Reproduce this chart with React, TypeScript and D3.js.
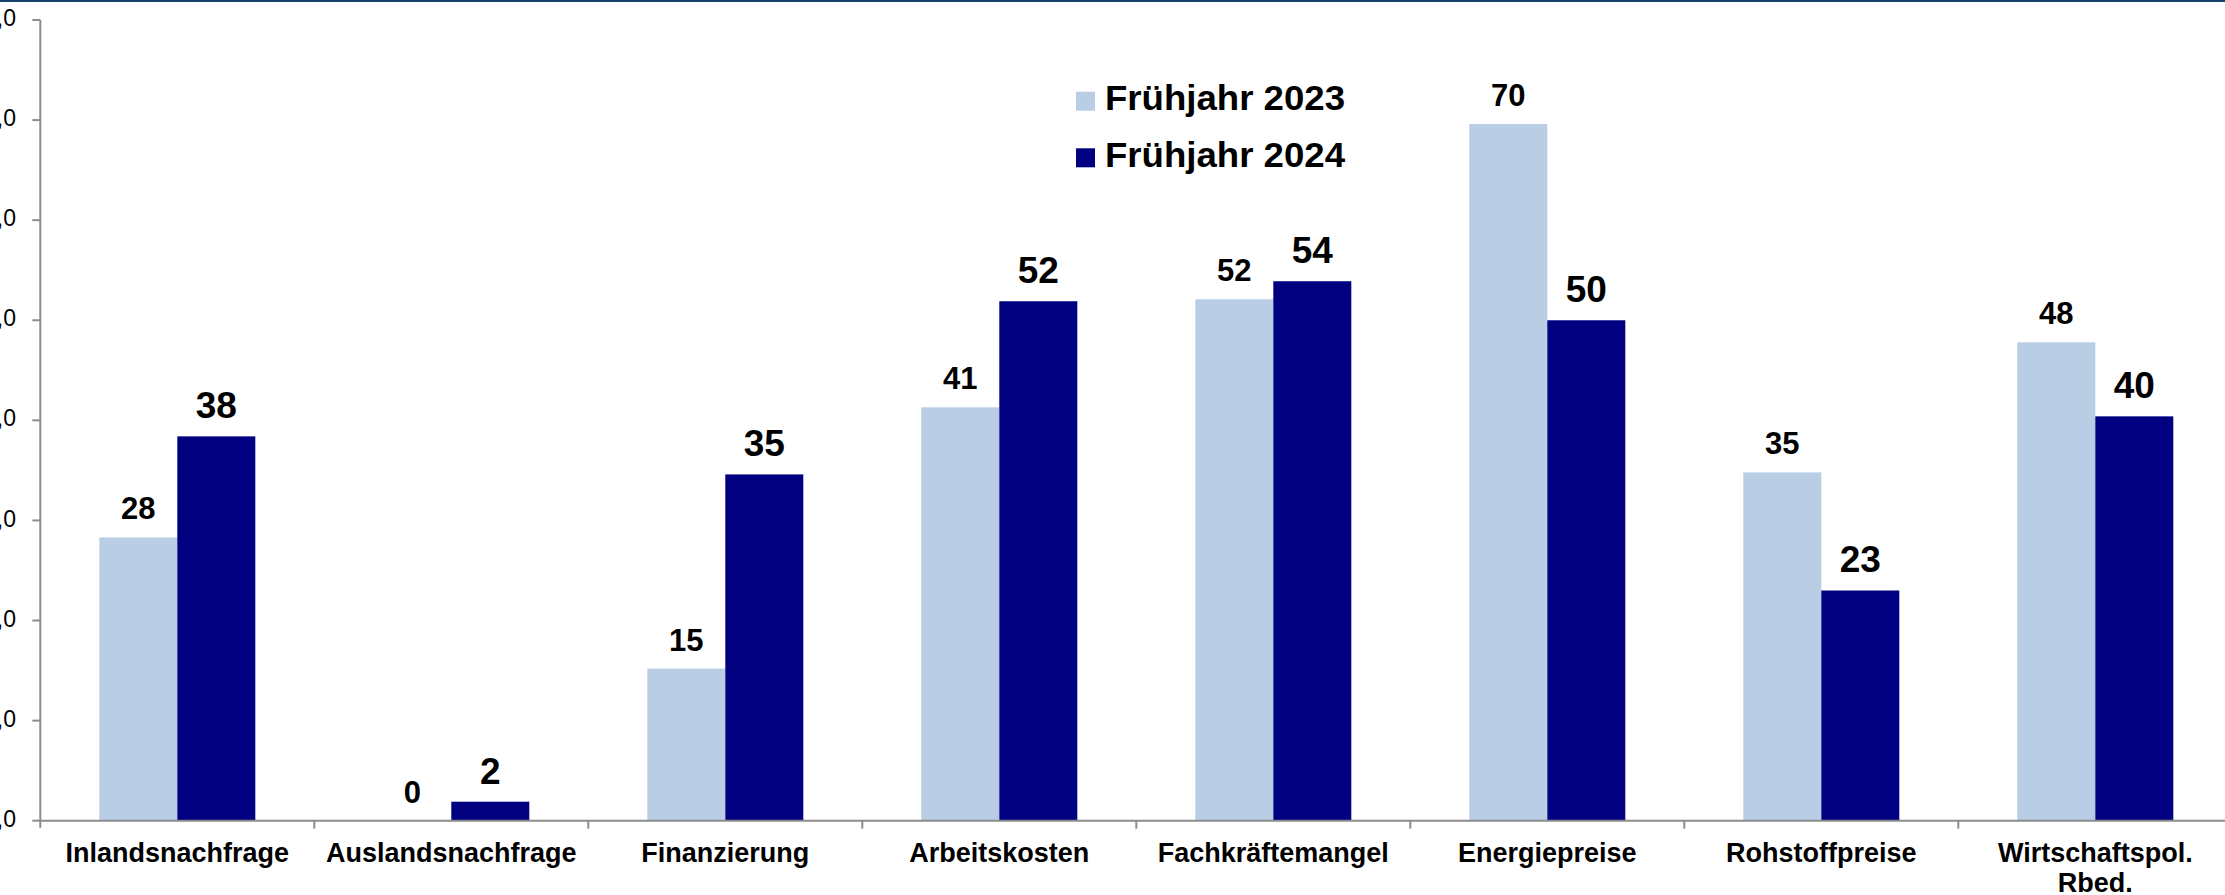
import React from "react";
import * as d3 from "d3";

const categories: string[][] = [
  ["Inlandsnachfrage"],
  ["Auslandsnachfrage"],
  ["Finanzierung"],
  ["Arbeitskosten"],
  ["Fachkräftemangel"],
  ["Energiepreise"],
  ["Rohstoffpreise"],
  ["Wirtschaftspol.", "Rbed."],
];
const seriesNames = ["Frühjahr 2023", "Frühjahr 2024"];
const values2023 = [28.3, 0, 15.2, 41.3, 52.1, 69.6, 34.8, 47.8];
const values2024 = [38.4, 1.9, 34.6, 51.9, 53.9, 50.0, 23.0, 40.4];
const yTicks = [0, 10, 20, 30, 40, 50, 60, 70, 80];
const yTickLabels = ["0,0", "10,0", "20,0", "30,0", "40,0", "50,0", "60,0", "70,0", "80,0"];

const W = 2225;
const H = 895;
const LIGHT = "#b9cde5";
const DARK = "#000080";
const AXIS = "#8c8c8c";
const FONT = "'Liberation Sans', Arial, Helvetica, sans-serif";

export default function App() {
  const x0 = 40.3;
  const band = 274;
  const keys = categories.map((c) => c.join(" "));
  const x = d3.scaleBand<string>().domain(keys).range([x0, x0 + band * keys.length]).padding(0);
  const y = d3.scaleLinear().domain([0, 80]).range([820.7, 20]);
  const barW = 78;
  const series = [
    { name: seriesNames[0], values: values2023, color: LIGHT, fs: 31 },
    { name: seriesNames[1], values: values2024, color: DARK, fs: 37 },
  ];

  return (
    <svg
      width={W}
      height={H}
      style={{ position: "absolute", left: 0, top: 0, background: "#fff" }}
      fontFamily={FONT}
    >
      <rect x={0} y={0} width={W} height={H} fill="#fff" />
      <rect x={0} y={0} width={W} height={2} fill="#173f6c" />

      {/* bars */}
      {keys.map((k, i) => {
        const cx = (x(k) as number) + x.bandwidth() / 2;
        return series.map((s, j) => {
          const v = s.values[i];
          const bx = cx - barW + j * barW;
          const top = y(v);
          return (
            <g key={k + j}>
              {v > 0 && (
                <rect x={bx} y={top} width={barW} height={y(0) - top} fill={s.color} />
              )}
              <text
                x={bx + barW / 2}
                y={top - 18}
                textAnchor="middle"
                fontWeight="bold"
                fontSize={s.fs}
                fill="#000"
              >
                {Math.round(v)}
              </text>
            </g>
          );
        });
      })}

      {/* y axis */}
      <line x1={x0} x2={x0} y1={y(80)} y2={y(0) + 7} stroke={AXIS} strokeWidth={2} />
      {yTicks.map((t, i) => (
        <g key={t}>
          <line x1={x0 - 8} x2={x0} y1={y(t)} y2={y(t)} stroke={AXIS} strokeWidth={2} />
          <text
            x={16}
            y={y(t)}
            textAnchor="end"
            dominantBaseline="middle"
            fontSize={23}
            fill="#000"
          >
            {yTickLabels[i]}
          </text>
        </g>
      ))}

      {/* x axis */}
      <line x1={x0} x2={W} y1={y(0)} y2={y(0)} stroke={AXIS} strokeWidth={2} />
      {keys.map((k, i) =>
        i > 0 ? (
          <line
            key={"t" + k}
            x1={x(k) as number}
            x2={x(k) as number}
            y1={y(0)}
            y2={y(0) + 8}
            stroke={AXIS}
            strokeWidth={2}
          />
        ) : null
      )}
      {keys.map((k, i) => (
        <text
          key={"l" + k}
          x={(x(k) as number) + x.bandwidth() / 2}
          y={862}
          textAnchor="middle"
          fontWeight="bold"
          fontSize={27}
          fill="#000"
        >
          {categories[i].map((line, li) => (
            <tspan key={li} x={(x(k) as number) + x.bandwidth() / 2} dy={li === 0 ? 0 : 30}>
              {line}
            </tspan>
          ))}
        </text>
      ))}

      {/* legend */}
      {series.map((s, j) => (
        <g key={s.name}>
          <rect x={1076} y={91.7 + j * 56.6} width={19} height={19} fill={s.color} />
          <text
            x={1105}
            y={110 + j * 56.6}
            fontWeight="bold"
            fontSize={35}
            textLength={240}
            lengthAdjust="spacingAndGlyphs"
            fill="#000"
          >
            {s.name}
          </text>
        </g>
      ))}
    </svg>
  );
}
